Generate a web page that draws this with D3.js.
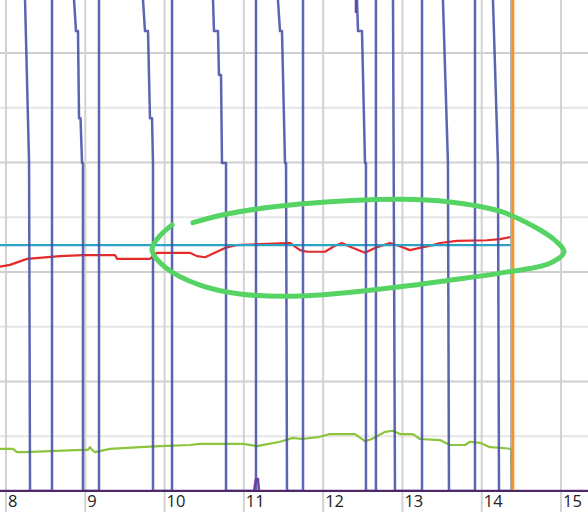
<!DOCTYPE html>
<html><head><meta charset="utf-8">
<script src="https://cdn.jsdelivr.net/npm/d3@7"></script>
<style>html,body{margin:0;padding:0;background:#fff;overflow:hidden}</style>
</head><body>
<svg id="c" width="588" height="512"></svg>
<script>
// ---- data (x in hours, y in value units) ----
const xTicks = [8, 9, 10, 11, 12, 13, 14, 15];
const yGrid = [1, 2, 3, 4, 5, 6, 7, 8];

const blueX = [7.9, 8.240, 8.291, 8.303, 8.580, 8.580, 8.858, 8.883, 8.908, 8.921, 8.940, 8.959, 8.971, 8.971, 9.173, 9.173,
  9.728, 9.753, 9.791, 9.816, 9.842, 9.854, 9.854, 10.094, 10.094,
  10.611, 10.623, 10.674, 10.686, 10.712, 10.724, 10.775, 10.775, 11.153, 11.153,
  11.430, 11.456, 11.481, 11.519, 11.532, 11.544, 11.746, 11.746,
  12.427, 12.440, 12.490, 12.528, 12.540, 12.540, 12.666, 12.666,
  12.881, 12.906, 13.247, 13.247,
  13.511, 13.574, 13.587, 13.915, 13.915,
  14.142, 14.205, 14.218, 14.395];
const blueY = [10, 8.97, 5.99, 0, 0, 10, 8.97, 8.40, 8.40, 6.81, 6.81, 5.99, 5.99, 0, 0, 10,
  8.97, 8.40, 8.40, 6.81, 6.81, 5.99, 0, 0, 10,
  8.97, 8.40, 8.40, 7.60, 7.60, 5.99, 5.99, 0, 0, 10,
  8.97, 8.40, 8.40, 5.99, 5.99, 0, 0, 10,
  8.97, 8.40, 8.40, 5.99, 5.99, 0, 0, 10,
  8.97, 0, 0, 10,
  8.97, 5.99, 0, 0, 10,
  8.97, 5.99, 0, 0];

const redX = [7.9, 8.050, 8.265, 8.681, 8.971, 9.375, 9.400, 9.816, 9.904, 10.321, 10.409, 10.510, 10.573, 10.762, 10.901,
  11.544, 11.582, 11.708, 11.796, 12.023, 12.149, 12.238, 12.339, 12.528, 12.654, 12.843, 12.969, 13.095, 13.221,
  13.385, 13.474, 13.688, 14.066, 14.231, 14.369];
const redY = [4.09, 4.13, 4.24, 4.29, 4.31, 4.31, 4.24, 4.24, 4.35, 4.35, 4.29, 4.27, 4.31, 4.44, 4.49,
  4.53, 4.53, 4.40, 4.37, 4.37, 4.48, 4.53, 4.46, 4.35, 4.44, 4.53, 4.47, 4.40, 4.44,
  4.49, 4.53, 4.57, 4.58, 4.60, 4.64];

const cyanX = [7.9, 14.369];
const cyanY = [4.49, 4.49];

const greenX = [7.9, 8.088, 8.139, 8.240, 8.555, 8.971, 9.034, 9.059, 9.085, 9.122, 9.312, 9.690, 9.942, 10.321, 10.447,
  10.989, 11.166, 11.456, 11.620, 11.733, 11.960, 12.086, 12.402, 12.528, 12.616, 12.780, 12.881, 12.969, 13.133,
  13.221, 13.474, 13.600, 13.789, 13.852, 13.978, 14.104, 14.230, 14.369, 14.382];
const greenY = [0.77, 0.77, 0.71, 0.71, 0.73, 0.75, 0.75, 0.80, 0.75, 0.71, 0.77, 0.80, 0.82, 0.84, 0.86,
  0.86, 0.82, 0.90, 0.97, 0.95, 0.99, 1.04, 1.04, 0.91, 0.95, 1.08, 1.10, 1.04, 1.04,
  0.95, 0.93, 0.84, 0.84, 0.90, 0.88, 0.80, 0.79, 0.77, 0];

// purple series: baseline with a small bump near 11:10 and a high value (mostly hidden) near 12:25
const purpleX = [7.9, 11.128, 11.153, 11.178, 11.191, 15.4, NaN, 12.414, 12.414];
const purpleY = [0, 0, 0.22, 0.22, 0, 0, NaN, 10, 8.73];

const grayX = [14.369, 14.369];
const grayY = [0, 10];
const orangeX = [14.395, 14.395];
const orangeY = [0, 10];

// hand-drawn annotation (ellipse) in data units
const noteX = [10.358, 10.787, 11.708, 12.969, 13.600, 14.230, 14.647, 14.924, 15.038, 14.861, 14.230, 13.600, 12.969,
  11.708, 10.951, 10.447, 10.005, 9.841, 9.917, 10.094];
const noteY = [4.90, 5.06, 5.24, 5.33, 5.28, 5.11, 4.84, 4.58, 4.37, 4.16, 3.98, 3.85, 3.73,
  3.56, 3.60, 3.76, 4.09, 4.40, 4.62, 4.86];

// ---- drawing ----
const W = 588, H = 512;
const x = d3.scaleLinear().domain([8, 15]).range([6, 561]);
const y = d3.scaleLinear().domain([0, 8]).range([491, 53]);
const svg = d3.select("#c");

svg.append("defs").append("clipPath").attr("id", "plot")
  .append("rect").attr("x", 0).attr("y", 0).attr("width", W).attr("height", 491);

// grid
const g = svg.append("g");
g.selectAll("line.h").data(yGrid).join("line")
  .attr("x1", 0).attr("x2", W)
  .attr("y1", d => y(d)).attr("y2", d => y(d))
  .attr("stroke", d => d % 2 === 0 ? "#cfcfcf" : "#e6e6e6").attr("stroke-width", 2);
g.selectAll("line.v").data(xTicks).join("line")
  .attr("y1", 0).attr("y2", H)
  .attr("x1", d => x(d)).attr("x2", d => x(d))
  .attr("stroke", "#d2d2d2").attr("stroke-width", 2);

const zip = (xs, ys) => xs.map((v, i) => [v, ys[i]]);
const line = d3.line().defined(d => !isNaN(d[0]) && !isNaN(d[1])).x(d => x(d[0])).y(d => y(d[1]));
const plot = svg.append("g").attr("clip-path", "url(#plot)");
function draw(xs, ys, color, w, op) {
  plot.append("path").datum(zip(xs, ys)).attr("d", line)
    .attr("fill", "none").attr("stroke", color).attr("stroke-width", w)
    .attr("stroke-opacity", op || 1).attr("stroke-linejoin", "round");
}
draw(greenX, greenY, "#8cc43c", 2.2);
draw(redX, redY, "#e52a2a", 2.2);
draw(cyanX, cyanY, "#2aa3c6", 2.2);
draw(purpleX, purpleY, "#8a3a9e", 2.5);
draw(blueX, blueY, "#4450a6", 2.5, 0.88);
draw(grayX, grayY, "#9a9a9a", 1.5);
draw(orangeX, orangeY, "#f2952a", 2.6);

// bottom axis line
svg.append("line").attr("x1", 0).attr("x2", W).attr("y1", y(0)).attr("y2", y(0))
  .attr("stroke", "#4a2a66").attr("stroke-width", 2);

// tick labels
svg.selectAll("text.t").data(xTicks).join("text")
  .attr("x", d => x(d) + 2).attr("y", 507)
  .attr("font-family", "'Open Sans', 'Noto Sans', sans-serif").attr("font-size", 16.5)
  .attr("fill", "#222").text(d => d);

// annotation
svg.append("path").datum(zip(noteX, noteY))
  .attr("d", d3.line().x(d => x(d[0])).y(d => y(d[1])).curve(d3.curveCatmullRom))
  .attr("fill", "none").attr("stroke", "#55d464").attr("stroke-width", 5)
  .attr("stroke-linecap", "round").attr("stroke-linejoin", "round");
</script>
</body></html>
